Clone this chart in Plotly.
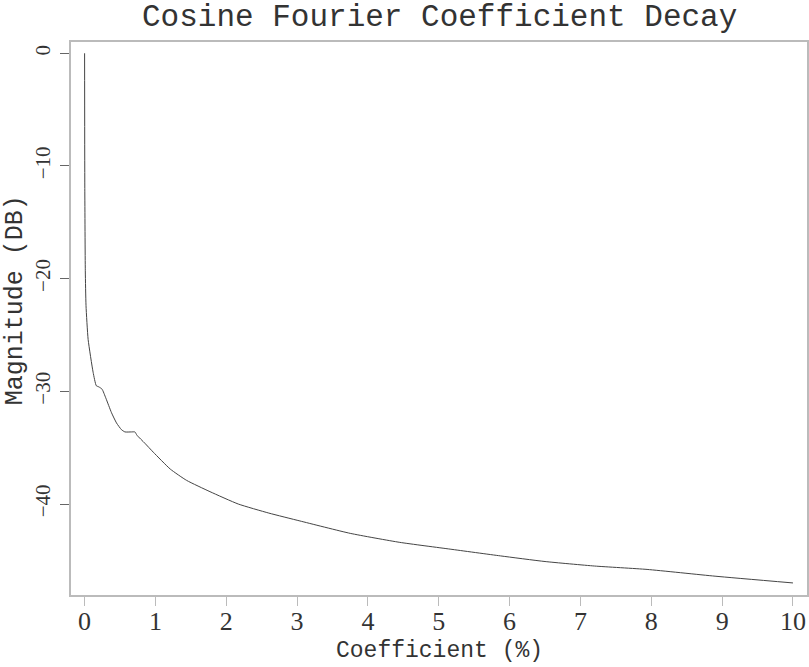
import plotly.graph_objects as go

coef_pct = [0, 0.003, 0.01, 0.02, 0.05, 0.12, 0.165, 0.2, 0.246, 0.3, 0.38, 0.45,
            0.52, 0.57, 0.66, 0.71, 0.74, 0.85, 0.97, 1.21, 1.44, 1.77, 2.17, 2.6,
            3.04, 3.75, 4.45, 5.16, 5.87, 6.5, 7.2, 7.94, 8.9, 10.0]
magnitude_db = [0, -12, -19.3, -22.4, -25.4, -28.3, -29.5, -29.6, -29.8, -30.6, -31.9, -32.8,
                -33.4, -33.6, -33.6, -33.6, -33.9, -34.6, -35.4, -36.9, -37.9, -38.9, -40.0, -40.8,
                -41.5, -42.6, -43.4, -44.0, -44.6, -45.1, -45.5, -45.8, -46.4, -47.0]
x_ticks = list(range(0, 11))
y_ticks = [0, -10, -20, -30, -40]

TXT = "#333333"
FRAME = "#bbbbbb"

fig = go.Figure()
fig.add_trace(go.Scatter(x=coef_pct, y=magnitude_db, mode="lines",
                         line=dict(color="#444444", width=1, shape="spline", smoothing=0.5),
                         showlegend=False, hoverinfo="skip"))

fig.update_layout(
    width=809, height=667,
    margin=dict(l=71, r=2, t=42, b=72, autoexpand=False),
    paper_bgcolor="white", plot_bgcolor="white",
)
fig.update_xaxes(range=[-0.192, 10.198], tickvals=x_ticks, ticktext=[str(v) for v in x_ticks],
                 automargin=False,
                 showgrid=False, zeroline=False, showline=True, mirror=True,
                 linecolor=FRAME, linewidth=2, ticks="outside", ticklen=9,
                 tickcolor=FRAME, tickwidth=1,
                 tickfont=dict(family="Liberation Serif", size=26, color=TXT))
try:
    fig.update_xaxes(ticklabelstandoff=-7)
except ValueError:
    pass
fig.update_yaxes(range=[-48.07, 1.0], tickvals=y_ticks,
                 ticktext=[str(v).replace("-", "\u2212") for v in y_ticks],
                 tickangle=-90, automargin=False, ticklabelstandoff=2,
                 showgrid=False, zeroline=False, showline=True, mirror=True,
                 linecolor=FRAME, linewidth=2, ticks="outside", ticklen=9,
                 tickcolor="#666666", tickwidth=1,
                 tickfont=dict(family="Liberation Serif", size=21, color=TXT))

fig.add_annotation(text="Cosine Fourier Coefficient Decay", xref="paper", yref="paper",
                   x=0.5, y=1.0452, xanchor="center", yanchor="middle", showarrow=False,
                   font=dict(family="Liberation Mono", size=31, color=TXT))
fig.add_annotation(text="Coefficient (%)", xref="paper", yref="paper",
                   x=0.5, y=-0.101, xanchor="center", yanchor="middle", showarrow=False,
                   font=dict(family="Liberation Mono", size=23, color=TXT))
fig.add_annotation(text="Magnitude (DB)", xref="paper", yref="paper", textangle=-90,
                   x=-0.076, y=0.533, xanchor="center", yanchor="middle", showarrow=False,
                   font=dict(family="Liberation Mono", size=25, color=TXT))

fig.write_html("out.html", config={"displayModeBar": False},
               post_script="document.body.style.margin='0';document.body.style.overflow='hidden';")
